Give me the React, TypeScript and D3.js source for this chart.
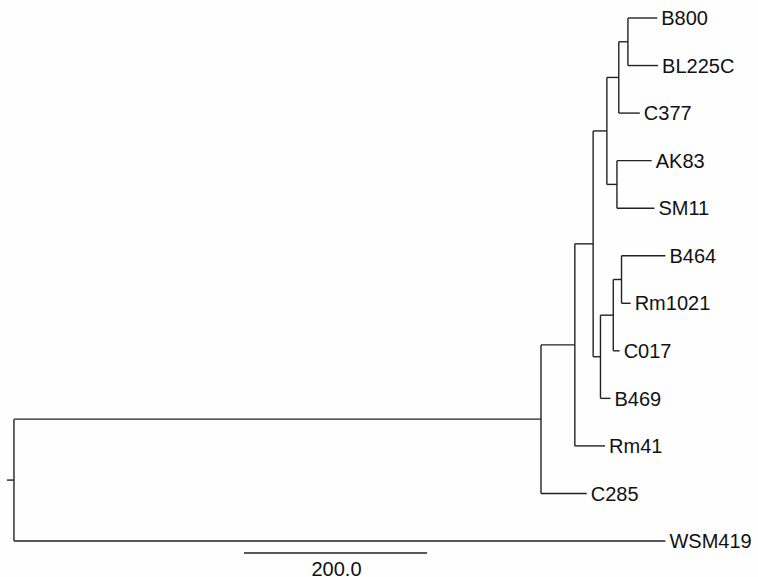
import React from "react";
import * as d3 from "d3";

// Tree data: node names, their parents, and branch lengths (in tree units)
const nodeNames = [
  "root", "N1", "WSM419", "C285", "N2", "Rm41", "N3", "N4", "N5", "N6",
  "B800", "BL225C", "C377", "N7", "AK83", "SM11", "N8", "N9", "N10",
  "B464", "Rm1021", "C017", "B469",
];
const parentNames = [
  "", "root", "root", "N1", "N1", "N2", "N2", "N3", "N4", "N5",
  "N6", "N6", "N5", "N4", "N7", "N7", "N3", "N8", "N9",
  "N10", "N10", "N9", "N8",
];
const branchLengths = [
  7.6, 576, 712, 50, 37, 33, 20, 15, 13, 10,
  32, 33, 23, 11, 38, 41, 8, 14, 9,
  48, 10, 7, 11,
];
// leaf draw order top to bottom
const leafOrder = [
  "B800", "BL225C", "C377", "AK83", "SM11", "B464", "Rm1021", "C017",
  "B469", "Rm41", "C285", "WSM419",
];
const scaleBarValue = 200;
const scaleBarLabel = "200.0";

const W = 758;
const H = 577;

export default function App() {
  const rows = nodeNames.map((n, i) => ({ id: n, parentId: parentNames[i] || null, len: branchLengths[i] }));
  const root = d3.stratify<any>().id((d: any) => d.id).parentId((d: any) => d.parentId)(rows);

  function firstLeafIndex(n: any): number {
    const leaves = n.leaves();
    return d3.min(leaves, (l: any) => leafOrder.indexOf(l.id)) as number;
  }
  root.sort((a: any, b: any) => firstLeafIndex(a) - firstLeafIndex(b));

  const x = d3.scaleLinear().domain([0, scaleBarValue]).range([0, 183]);
  const y = d3.scaleLinear().domain([0, leafOrder.length - 1]).range([18, 541]);
  const x0 = 7; // start of root stub

  root.each((n: any) => {
    n.dist = (n.parent ? n.parent.dist : 0) + n.data.len;
  });
  root.eachAfter((n: any) => {
    if (!n.children) n.yy = y(leafOrder.indexOf(n.id));
    else n.yy = (n.children[0].yy + n.children[n.children.length - 1].yy) / 2;
  });

  const px = (n: any) => x0 + x(n.dist);
  const pxStart = (n: any) => (n.parent ? px(n.parent) : x0);

  const stroke = "#222";
  const sw = 1.4;
  const nodes = root.descendants();

  return (
    <svg width={W} height={H} style={{ position: "absolute", left: 0, top: 0, background: "#fff" }}
      fontFamily="Liberation Sans, Arial, sans-serif">
      <rect width={W} height={H} fill="#fefefe" />
      {nodes.map((n: any) => (
        <line key={"h" + n.id} x1={pxStart(n)} x2={px(n)} y1={n.yy} y2={n.yy} stroke={stroke} strokeWidth={sw} />
      ))}
      {nodes.filter((n: any) => n.children).map((n: any) => (
        <line key={"v" + n.id} x1={px(n)} x2={px(n)} y1={n.children[0].yy} y2={n.children[n.children.length - 1].yy}
          stroke={stroke} strokeWidth={sw} />
      ))}
      {nodes.filter((n: any) => !n.children).map((n: any) => (
        <text key={"t" + n.id} x={px(n) + 4} y={n.yy} dy="0.36em" fontSize={20} fill="#111">{n.id}</text>
      ))}
      <line x1={244} x2={244 + x(scaleBarValue)} y1={553} y2={553} stroke={stroke} strokeWidth={sw} />
      <text x={244 + x(scaleBarValue) / 2 + 1} y={576} textAnchor="middle" fontSize={20} fill="#111">{scaleBarLabel}</text>
    </svg>
  );
}
